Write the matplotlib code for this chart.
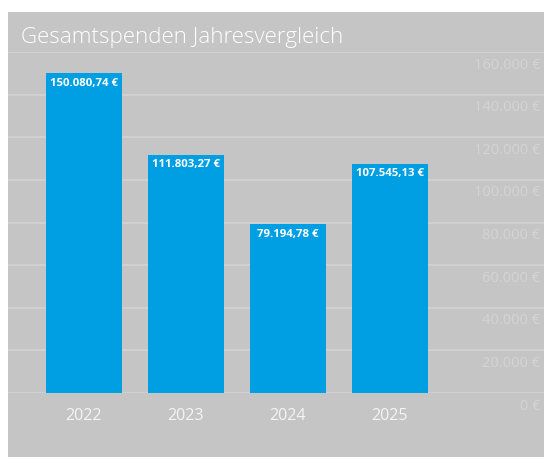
import matplotlib
matplotlib.use("Agg")
import matplotlib.pyplot as plt
from matplotlib.patches import Rectangle

# --- Data ---
years = ["2022", "2023", "2024", "2025"]
totals = [150080.74, 111803.27, 79194.78, 107545.13]
value_labels = ["150.080,74 €", "111.803,27 €", "79.194,78 €", "107.545,13 €"]
y_ticks = [0, 20000, 40000, 60000, 80000, 100000, 120000, 140000, 160000]
y_tick_labels = ["0 €", "20.000 €", "40.000 €", "60.000 €", "80.000 €",
                 "100.000 €", "120.000 €", "140.000 €", "160.000 €"]

BG = "#c5c5c5"
BAR = "#009fe3"
GRID = "#d3d3d3"
TICK = "#d4d4d4"

plt.rcParams['font.family'] = ['Open Sans', 'DejaVu Sans']

W, H = 544, 457
fig = plt.figure(figsize=(W / 100, H / 100), dpi=100)
fig.patch.set_facecolor("white")

# gray panel (white strip top and left)
fig.patches.append(Rectangle((8 / W, 0), 1 - 8 / W, (H - 12) / H,
                             transform=fig.transFigure, facecolor=BG,
                             edgecolor="none", zorder=-10))

ax = fig.add_axes([8 / W, (H - 393) / H, 1 - 8 / W, (393 - 52) / H])
ax.set_zorder(5)
ax.set_facecolor("none")
ax.bar(range(len(years)), totals, width=0.745, color=BAR, zorder=3)
ax.set_xlim(-0.745, 4.51)
ax.set_ylim(0, 160000)

ax.set_yticks(y_ticks)
ax.grid(axis="y", color=GRID, linewidth=1.2, zorder=1)
ax.tick_params(left=False, bottom=False, labelleft=False, labelbottom=False)
for s in ax.spines.values():
    s.set_visible(False)

# y labels sit just under their gridline, on the right
for v, lab in zip(y_ticks, y_tick_labels):
    ax.annotate(lab, xy=(532 / 536, v), xycoords=("axes fraction", "data"),
                xytext=(0, -9.4), textcoords="offset points",
                ha="right", va="center", fontsize=10.5, color=TICK,
                annotation_clip=False)

# year labels under the bars
for i, yr in enumerate(years):
    ax.annotate(yr, xy=(i, 0), xytext=(0, -16.3), textcoords="offset points",
                ha="center", va="center", fontsize=11.6, color="#f4f4f4",
                annotation_clip=False)

# value labels inside the top of each bar
for i, (v, lab) in enumerate(zip(totals, value_labels)):
    ax.annotate(lab, xy=(i, v), xytext=(0, -7.2), textcoords="offset points",
                ha="center", va="center", fontsize=8.2, fontweight="bold",
                color="white", zorder=4)

fig.text(21 / W, (H - 43) / H, "Gesamtspenden Jahresvergleich",
         fontsize=16.1, fontweight="light", color="white", va="baseline")

fig.savefig("out.png", dpi=100)
